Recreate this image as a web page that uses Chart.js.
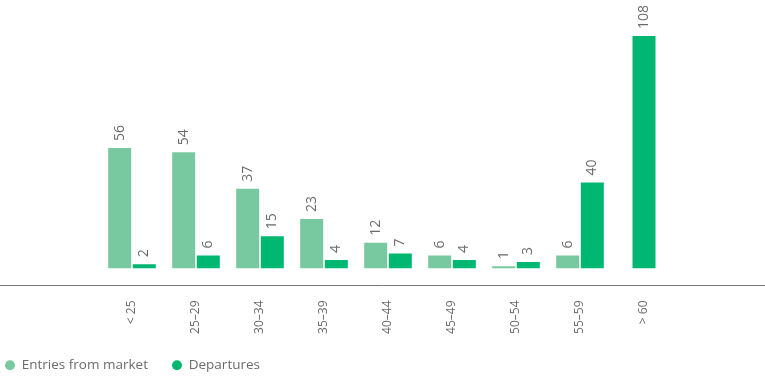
<!DOCTYPE html>
<html>
<head>
<meta charset="utf-8">
<script src="https://cdn.jsdelivr.net/npm/chart.js@4/dist/chart.umd.min.js"></script>
<style>
  html, body { margin: 0; padding: 0; background: #fff; }
  #wrap { width: 765px; height: 380px; }
</style>
</head>
<body>
<div id="wrap"><canvas id="age-chart" width="765" height="380"></canvas></div>
<script>
const ageGroups = ['< 25', '25–29', '30–34', '35–39', '40–44', '45–49', '50–54', '55–59', '> 60']
const entries = [56, 54, 37, 23, 12, 6, 1, 6, null]
const departures = [2, 6, 15, 4, 7, 4, 3, 40, 108]

const textColor = '#6b6b6b'
const fontFamily = '"Open Sans", "DejaVu Sans", sans-serif'

// value labels written upward above each bar
const barLabels = {
  id: 'barLabels',
  afterDatasetsDraw (chart) {
    const ctx = chart.ctx
    ctx.save()
    ctx.fillStyle = textColor
    ctx.font = '14px ' + fontFamily
    ctx.textAlign = 'left'
    ctx.textBaseline = 'middle'
    chart.data.datasets.forEach((ds, i) => {
      chart.getDatasetMeta(i).data.forEach((bar, j) => {
        if (ds.data[j] == null) return
        ctx.save()
        ctx.translate(bar.x, bar.y - 7)
        ctx.rotate(-Math.PI / 2)
        ctx.fillText(ds.data[j], 0, 0)
        ctx.restore()
      })
    })
    ctx.restore()
  }
}

// grey base line across the whole width, a little under the bars
const baseLine = {
  id: 'baseLine',
  afterDraw (chart) {
    const ctx = chart.ctx
    const y = Math.round(chart.chartArea.bottom + 16) + 0.5
    ctx.save()
    ctx.strokeStyle = '#777'
    ctx.lineWidth = 1
    ctx.beginPath()
    ctx.moveTo(0, y)
    ctx.lineTo(chart.width, y)
    ctx.stroke()
    ctx.restore()
  }
}

// invisible axis used only to reserve space beside the bars
const spacer = (pos, w) => ({
  type: 'linear',
  position: pos,
  display: true,
  grid: { display: false },
  border: { display: false },
  ticks: { display: false },
  afterFit (scale) { scale.width = w }
})

const ctx = document.getElementById('age-chart').getContext('2d')

const chart = new Chart(ctx, {
  type: 'bar',
  data: {
    labels: ageGroups,
    datasets: [
      { label: 'Entries from market', data: entries, backgroundColor: '#79c9a0' },
      { label: 'Departures', data: departures, backgroundColor: '#00b771' }
    ]
  },
  options: {
    responsive: false,
    animation: false,
    skipNull: true,
    categoryPercentage: 0.77,
    barPercentage: 0.94,
    maxBarThickness: 23,
    layout: { padding: { top: 36, left: -19, right: 0, bottom: -2 } },
    scales: {
      x: {
        grid: { display: false },
        border: { display: false },
        ticks: {
          color: textColor,
          font: { family: fontFamily, size: 12 },
          minRotation: 90,
          maxRotation: 90,
          padding: 24
        },
        afterFit (scale) { scale.height = 66 }
      },
      y: Object.assign(spacer('left', 119), { min: 0, max: 108 }),
      yRight: spacer('right', 89)
    },
    plugins: {
      tooltip: { enabled: false },
      legend: {
        position: 'bottom',
        align: 'start',
        labels: {
          usePointStyle: true,
          pointStyle: 'circle',
          boxWidth: 10,
          boxHeight: 7,
          padding: 24,
          color: textColor,
          font: { family: fontFamily, size: 13.5 }
        }
      }
    }
  },
  plugins: [barLabels, baseLine]
})
</script>
</body>
</html>
